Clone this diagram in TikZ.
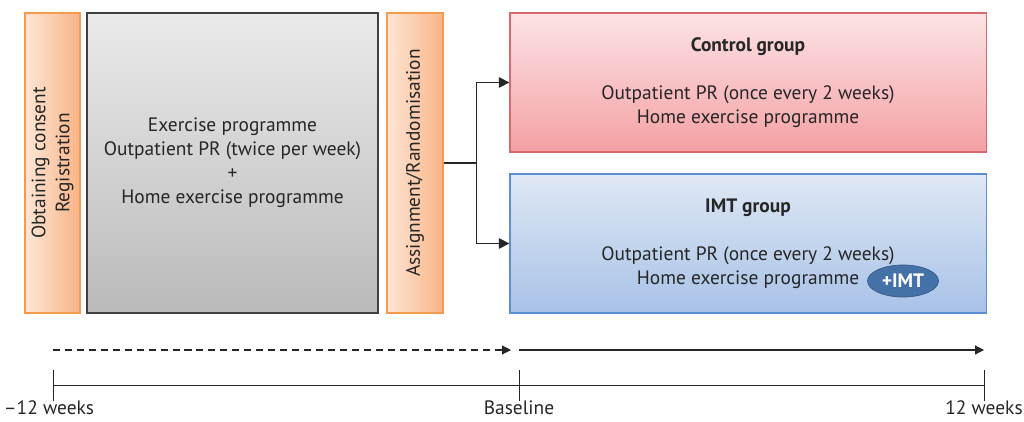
\documentclass[tikz,border=0pt]{standalone}
\usepackage{fontspec}
\setmainfont{PT Sans}
\usepackage{tikz}
\usetikzlibrary{arrows.meta, positioning, shapes.geometric, calc}
\definecolor{orangeline}{HTML}{F59A4E}
\definecolor{orangelight}{HTML}{FEE6D6}
\definecolor{orangedark}{HTML}{F8B486}
\definecolor{redline}{HTML}{D9686B}
\definecolor{redlight}{HTML}{FCE3E5}
\definecolor{reddark}{HTML}{F4A1A4}
\definecolor{blueline}{HTML}{5C8ED3}
\definecolor{bluelight}{HTML}{DFE8F5}
\definecolor{bluedark}{HTML}{A8C2E7}
\definecolor{pill}{HTML}{4472A8}

\begin{document}
\begin{tikzpicture}[
  x=0.025cm, y=-0.025cm,
  every node/.style={font=\fontsize{13.8}{17}\selectfont, text=black!85},
  stagebox/.style={rectangle, draw=orangeline, line width=1.1pt, rotate=90,
    minimum width=7.5cm, left color=orangelight, right color=orangedark, align=center},
  runbox/.style={rectangle, draw=black!75, line width=0.9pt, minimum width=7.275cm,
    minimum height=7.5cm, top color=black!8, bottom color=black!27, align=center},
  groupbox/.style={rectangle, line width=0.8pt, minimum width=11.9cm, minimum height=3.475cm, align=center},
  arr/.style={-{Triangle[length=2.6mm, width=2.6mm]}, line width=0.8pt, black!85},
  tarr/.style={-{Triangle[length=2.2mm, width=2.2mm]}, line width=0.8pt, black!85},
  tick/.style={line width=0.6pt, black!85},
  timelabel/.style={anchor=south, inner sep=0.5pt}
]
\useasboundingbox (0,0) rectangle (1024,421);
\node[stagebox, minimum height=1.375cm] (C) at (52.5,163) {Obtaining consent\\Registration};
\node[runbox] (R) at (232.5,163) {Exercise programme\\Outpatient PR (twice per week)\\+\\Home exercise programme};
\node[stagebox, minimum height=1.4cm] (A) at (415,163) {Assignment/Randomisation};
\node[groupbox, draw=redline, top color=redlight, bottom color=reddark]
  (G1) at (748,82.5) {\textbf{Control group}\\[0.6cm]Outpatient PR (once every 2 weeks)\\Home exercise programme};
\node[groupbox, draw=blueline, top color=bluelight, bottom color=bluedark]
  (G2) at (748,243.5) {\textbf{IMT group}\\[0.6cm]Outpatient PR (once every 2 weeks)\\Home exercise programme};
\node[ellipse, fill=pill, draw=pill!80!black, line width=0.5pt, minimum width=1.775cm, minimum height=0.8cm,
  inner sep=0pt, text=white, font=\fontsize{13.8}{14}\selectfont\bfseries] (P) at (903,281) {+IMT};
\draw[line width=0.8pt, black!85] (A.south) -- ++(33,0) coordinate (S);
\draw[arr] (S) |- (G1.west);
\draw[arr] (S) |- (G2.west);

\coordinate (T0) at (53,385);
\coordinate (TB) at (519,385);
\coordinate (T1) at (984,385);
\draw[tarr, dash pattern=on 5pt off 3.5pt] ($(T0)+(0,-35)$) coordinate (D0) -- ($(TB)+(-8,-35)$) coordinate (D1);
\draw[tarr] ($(TB)+(0,-35)$) coordinate (E0) -- ($(T1)+(0,-35)$) coordinate (E1);
\draw[tick] (T0) -- (T1);
\foreach \t in {T0,TB,T1}
  \draw[tick] ($(\t)+(0,-15)$) -- ($(\t)+(0,16)$);
\node[timelabel] (L0) at ($(T0)+(-4,31)$) {–12 weeks};
\node[timelabel] (LB) at ($(TB)+(0,31)$) {Baseline};
\node[timelabel] (L1) at ($(T1)+(0,31)$) {12 weeks};
\end{tikzpicture}
\end{document}
